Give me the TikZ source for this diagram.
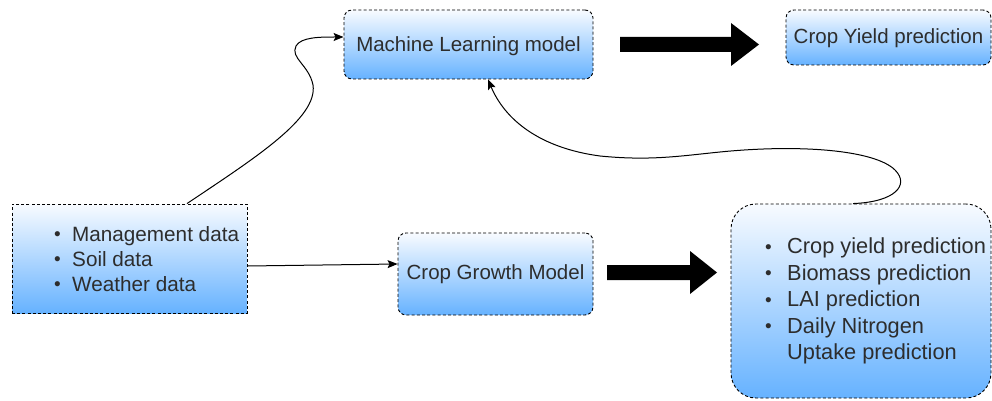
\documentclass[tikz,border=0pt]{standalone}
\usepackage{fontspec}
\setmainfont{Liberation Sans}
\usetikzlibrary{arrows.meta}
\definecolor{boxblue}{RGB}{102,178,255}
\definecolor{boxtop}{RGB}{248,251,255}
\definecolor{txt}{RGB}{45,45,45}
\newcommand\bul{\raisebox{0.5pt}{\fontsize{19}{19}\selectfont •}}
\tikzset{
  box/.style={draw=black, line width=0.9pt, dash pattern=on 3pt off 2.2pt,
    top color=boxtop, bottom color=boxblue, inner sep=0pt},
  rbox/.style={box, rounded corners=8pt},
  lbl/.style={text=txt, font=\fontsize{20.5}{25}\selectfont, inner sep=0pt},
  conn/.style={line width=1pt, -{Stealth[length=10pt,width=8pt,inset=2pt]}},
  bigarrow/.style={fill=black, draw=none}
}
\begin{document}
\begin{tikzpicture}[x=1pt,y=-1pt]
\useasboundingbox (0,0) rectangle (992,401);
% boxes
\node[rbox, minimum width=249pt, minimum height=69pt] (ml) at (468.5,44.5) {};
\node[lbl] (mlt) at (468.5,46) {Machine Learning model};
\node[rbox, minimum width=205pt, minimum height=55pt] (cy) at (888.5,37.5) {};
\node[lbl] (cyt) at (888.5,38.5) {Crop Yield prediction};
\node[box, minimum width=235pt, minimum height=109pt] (inp) at (129.5,258.5) {};
\node[lbl, anchor=west] (inpt) at (54,261) {\fontsize{20.7}{25}\selectfont
  \begin{tabular}{@{}p{18pt}@{}l@{}}
  \bul & Management data\\
  \bul & Soil data\\
  \bul & Weather data
  \end{tabular}};
\node[rbox, minimum width=195pt, minimum height=82pt] (cgm) at (495.5,274) {};
\node[lbl] (cgmt) at (495.5,274) {Crop Growth Model};
\node[box, rounded corners=25pt, minimum width=260pt, minimum height=194pt] (out) at (861,301) {};
\node[lbl, anchor=west] (outt) at (765,301.5) {\fontsize{21.8}{26.4}\selectfont
  \begin{tabular}{@{}p{22pt}@{}l@{}}
  \bul & Crop yield prediction\\
  \bul & Biomass prediction\\
  \bul & LAI prediction\\
  \bul & Daily Nitrogen\\
       & Uptake prediction
  \end{tabular}};
% big arrows
\fill[bigarrow] (620,37) -- (731,37) -- (731,23) -- (759,44.5) -- (731,66) -- (731,52) -- (620,52) -- cycle;
\fill[bigarrow] (607,265) -- (690,265) -- (690,251) -- (717,272.5) -- (690,294) -- (690,280) -- (607,280) -- cycle;
% connectors
\draw[conn] ([yshift=-7.5pt]inp.east) -- ([yshift=10pt]cgm.west);
\draw[conn] ([xshift=57.5pt]inp.north)
  .. controls (255,158) and (318,118) .. (313,85)
  .. controls (309,65) and (290,58) .. (296,46)
  .. controls (301,37) and (320,37) .. ([yshift=7.5pt]ml.west);
\draw[conn] ([xshift=-8pt]out.north)
  .. controls (895,202) and (910,185) .. (895,170)
  .. controls (875,150) and (800,144) .. (720,152)
  .. controls (680,156) and (650,161) .. (600,156)
  .. controls (540,148) and (505,120) .. ([xshift=19.5pt]ml.south);
\end{tikzpicture}
\end{document}
